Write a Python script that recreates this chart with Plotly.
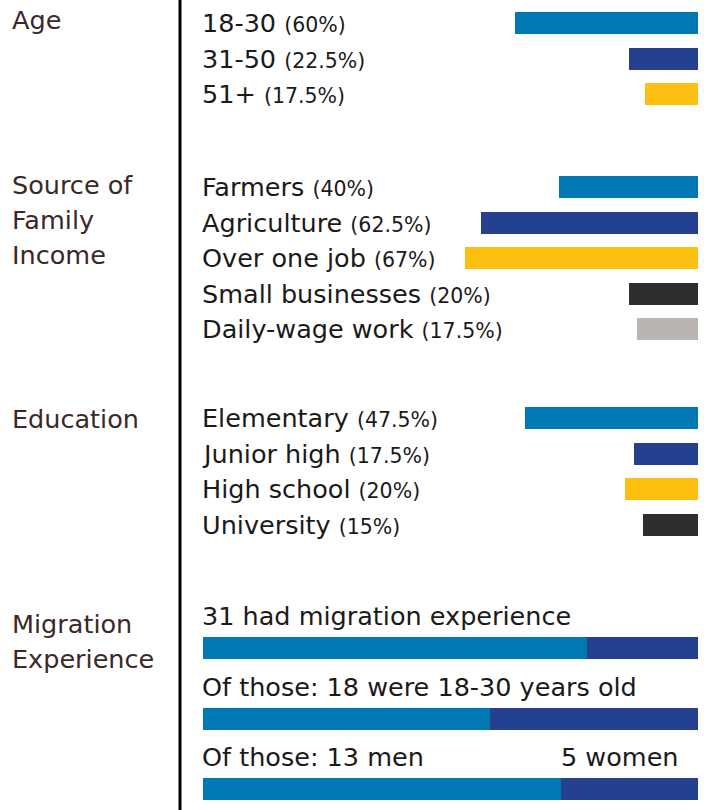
import plotly.graph_objects as go

# ---------------- data ----------------
age_labels = ["18-30", "31-50", "51+"]
age_values = [60, 22.5, 17.5]

income_labels = ["Farmers", "Agriculture", "Over one job", "Small businesses", "Daily-wage work"]
income_values = [40, 62.5, 67, 20, 17.5]

edu_labels = ["Elementary", "Junior high", "High school", "University"]
edu_values = [47.5, 17.5, 20, 15]

section_titles = [["Age"], ["Source of", "Family", "Income"], ["Education"], ["Migration", "Experience"]]

mig_labels = ["31 had migration experience", "Of those: 18 were 18-30 years old", "Of those: 13 men"]
mig_part = [31, 18, 13]
mig_total = [40, 31, 18]
mig_rest_labels = ["", "", "5 women"]

# ---------------- style ----------------
W, H = 704, 810
colors = ["#0078B4", "#25408F", "#FDC010", "#2E2E2E", "#BAB5B2"]
FONT = "DejaVu Sans, Verdana, sans-serif"
WEIGHT = "normal"
BIG = 25.5
SMALL = 20.5
TXT = "#1a1a1a"
TITLE_C = "#3b2828"

bar_left, bar_right = 203, 698
bar_h = 22
row_step = 35.5
section_starts = [23, 187, 418]          # centre of first bar in each section
title_tops = [20, 185, 419, 624]         # centre of first title line
title_step = 35
px_per_pct = [3.05, 3.475, 3.64]         # each section drawn on its own scale
mig_centres = [648, 719, 789]

fig = go.Figure()
annotations = []

def fnt(size, color):
    return dict(family=FONT, size=size, color=color, weight=WEIGHT)

def ann(**kw):
    d = dict(showarrow=False, xanchor="left", yanchor="middle", borderpad=0, borderwidth=0)
    d.update(kw)
    annotations.append(d)

sections = [(age_labels, age_values), (income_labels, income_values), (edu_labels, edu_values)]
for s, (labels, values) in enumerate(sections):
    ax = "x" if s == 0 else f"x{s+1}"
    ys = [section_starts[s] + i * row_step for i in range(len(labels))]
    fig.add_trace(go.Bar(
        x=values, y=ys, orientation="h", width=bar_h,
        marker=dict(color=colors[:len(values)], line=dict(width=0)),
        xaxis=ax, yaxis="y", hoverinfo="skip", showlegend=False,
    ))
    for lab, v, y in zip(labels, values, ys):
        ann(x=(bar_left - 1) / W, xref="paper", y=y, yref="y",
            text=f"{lab} <span style='font-size:{SMALL}px'>({v:g}%)</span>",
            font=fnt(BIG, TXT))

# migration stacked bars (share of each group)
share = [p / t for p, t in zip(mig_part, mig_total)]
rest = [1 - s for s in share]
fig.add_trace(go.Bar(x=share, y=mig_centres, orientation="h", width=bar_h,
                     marker=dict(color=colors[0], line=dict(width=0)),
                     xaxis="x4", yaxis="y", hoverinfo="skip", showlegend=False))
fig.add_trace(go.Bar(x=rest, y=mig_centres, base=share, orientation="h", width=bar_h,
                     marker=dict(color=colors[1], line=dict(width=0)),
                     xaxis="x4", yaxis="y", hoverinfo="skip", showlegend=False))
for lab, rl, y, sh in zip(mig_labels, mig_rest_labels, mig_centres, share):
    ann(x=(bar_left - 1) / W, xref="paper", y=y - 32, yref="y", text=lab, font=fnt(BIG, TXT))
    if rl:
        ann(x=sh, xref="x4", y=y - 32, yref="y", text=rl, font=fnt(BIG, TXT))

# section titles
for lines, top in zip(section_titles, title_tops):
    for j, line in enumerate(lines):
        ann(x=12 / W, xref="paper", y=top + j * title_step, yref="y",
            text=line, font=fnt(BIG, TITLE_C))

dom = [bar_left / W, bar_right / W]
hidden = dict(visible=False, showgrid=False, zeroline=False, fixedrange=True)
fig.update_layout(
    width=W, height=H, margin=dict(l=0, r=0, t=0, b=0),
    paper_bgcolor="white", plot_bgcolor="white",
    barmode="overlay", bargap=0,
    xaxis=dict(domain=dom, range=[(bar_right - bar_left) / px_per_pct[0], 0], anchor="y", **hidden),
    xaxis2=dict(domain=dom, range=[(bar_right - bar_left) / px_per_pct[1], 0], anchor="y", overlaying="x", **hidden),
    xaxis3=dict(domain=dom, range=[(bar_right - bar_left) / px_per_pct[2], 0], anchor="y", overlaying="x", **hidden),
    xaxis4=dict(domain=dom, range=[0, 1], anchor="y", overlaying="x", **hidden),
    yaxis=dict(domain=[0, 1], range=[H, 0], **hidden),
    annotations=annotations,
    shapes=[dict(type="line", xref="paper", yref="paper", x0=180 / W, x1=180 / W,
                 y0=0, y1=1, line=dict(color="black", width=3))],
)

fig.write_html("out.html", config={"displayModeBar": False})
